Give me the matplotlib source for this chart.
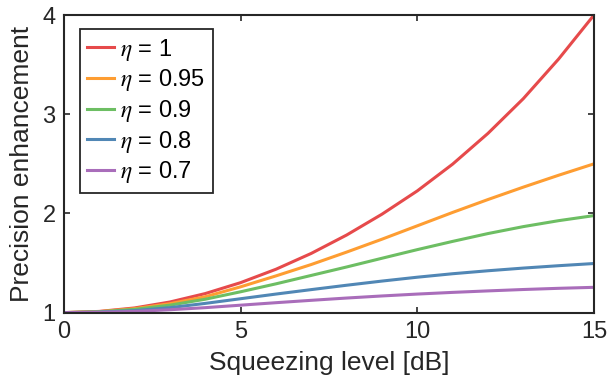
import numpy as np
import matplotlib
matplotlib.use('Agg')
import matplotlib.pyplot as plt

plt.rcParams['font.family'] = ['Liberation Sans', 'DejaVu Sans']
plt.rcParams['mathtext.fontset'] = 'stix'

# squeezing level [dB]
db = [0, 1, 2, 3, 4, 5, 6, 7, 8, 9, 10, 11, 12, 13, 14, 15]

# precision enhancement
eta_1    = [1.00, 1.012, 1.047, 1.107, 1.192, 1.302, 1.437, 1.597, 1.782, 1.992, 2.227, 2.497, 2.807, 3.157, 3.557, 4.00]
eta_095  = [1.00, 1.01, 1.04, 1.09, 1.16, 1.26, 1.37, 1.485, 1.61, 1.74, 1.875, 2.01, 2.14, 2.265, 2.385, 2.50]
eta_09   = [1.00, 1.008, 1.033, 1.075, 1.135, 1.21, 1.29, 1.375, 1.46, 1.548, 1.635, 1.718, 1.797, 1.867, 1.927, 1.978]
eta_08   = [1.00, 1.005, 1.02, 1.05, 1.093, 1.14, 1.187, 1.232, 1.276, 1.318, 1.357, 1.392, 1.422, 1.449, 1.473, 1.495]
eta_07   = [1.00, 1.003, 1.012, 1.029, 1.05, 1.075, 1.10, 1.124, 1.147, 1.168, 1.187, 1.204, 1.219, 1.233, 1.245, 1.255]

labels = ['$\\eta$ = 1', '$\\eta$ = 0.95', '$\\eta$ = 0.9', '$\\eta$ = 0.8', '$\\eta$ = 0.7']
colors = ['#E64A4B', '#FE9D32', '#6DBE63', '#5187B5', '#A96DBA']

fig = plt.figure(figsize=(6.08, 3.85), dpi=100)
ax = fig.add_axes([0.105, 0.188, 0.872, 0.773])

for ys, lab, c in zip([eta_1, eta_095, eta_09, eta_08, eta_07], labels, colors):
    ax.plot(db, ys, color=c, lw=2.2, label=lab)

ax.set_xlim(0, 15)
ax.set_ylim(1, 4)
ax.set_xticks([0, 5, 10, 15])
ax.set_yticks([1, 2, 3, 4])
ax.tick_params(direction='in', length=4.5, width=1.2, top=True, right=True,
               labelsize=17, colors='#262626', pad=6)
for s in ax.spines.values():
    s.set_linewidth(1.5)
    s.set_color('#262626')

ax.set_xlabel('Squeezing level [dB]', fontsize=19, color='#262626', labelpad=6)
ax.set_ylabel('Precision enhancement', fontsize=19, color='#262626', labelpad=6)

leg = ax.legend(loc='upper left', bbox_to_anchor=(0.030, 0.953), borderaxespad=0,
                fontsize=17, handlelength=1.15, handletextpad=0.25, labelspacing=0.2,
                borderpad=0.32, fancybox=False, framealpha=1)
leg.get_frame().set_edgecolor('#262626')
leg.get_frame().set_linewidth(1.3)

plt.savefig('out.png', dpi=100)
